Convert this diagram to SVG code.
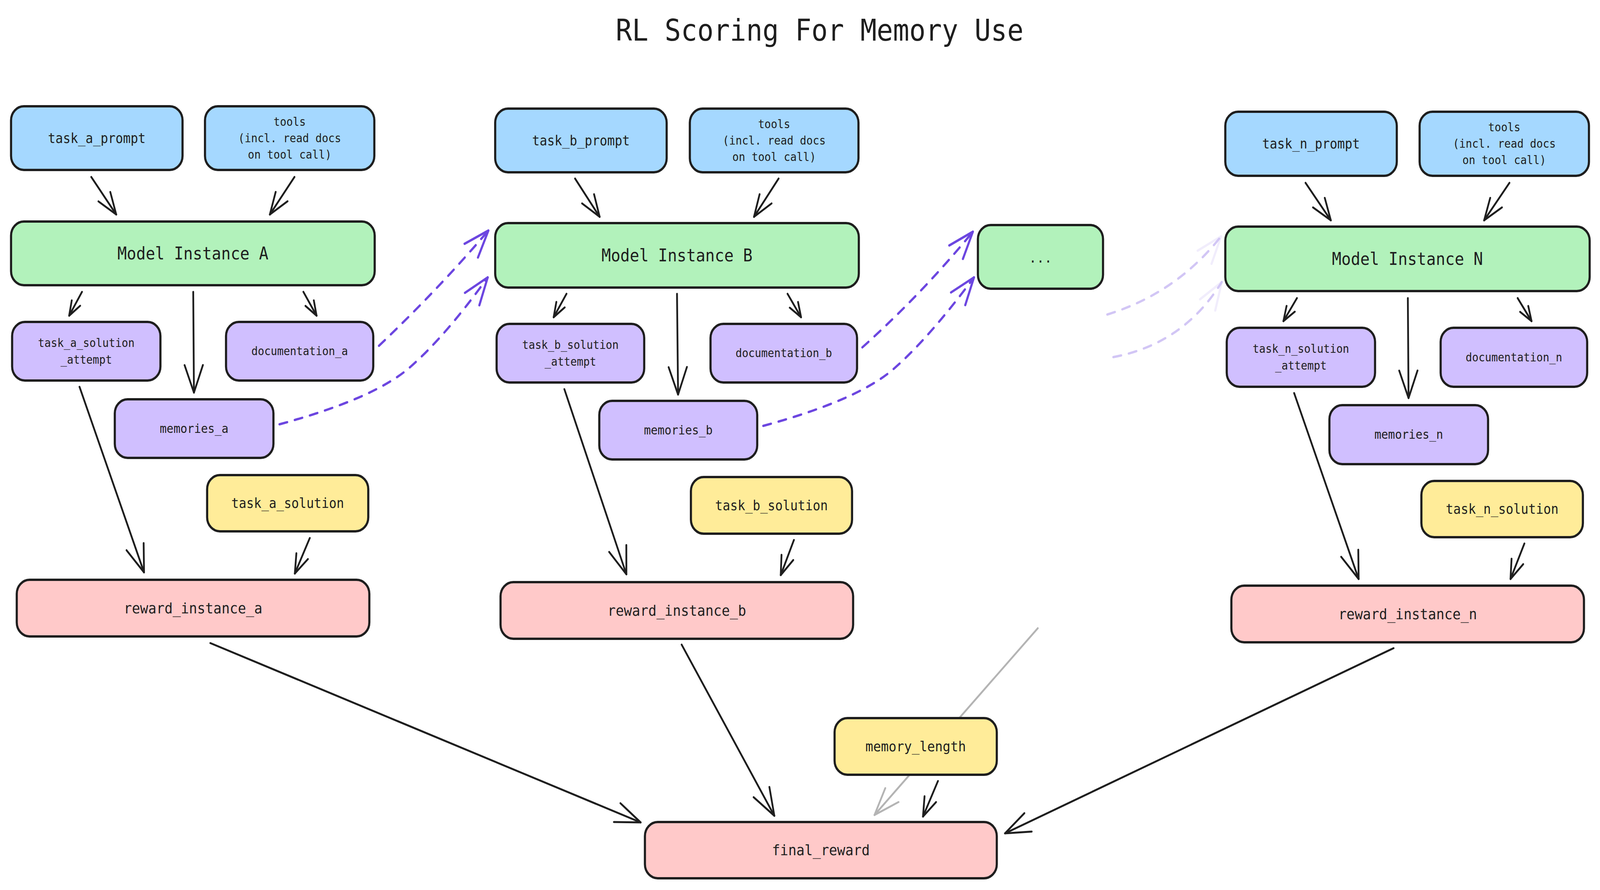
<svg xmlns="http://www.w3.org/2000/svg" width="4488" height="2278" viewBox="0 0 4488 2278" preserveAspectRatio="none">
<style>
svg{width:100vw;height:100vh;display:block}
.box{stroke:#1e1e1e;stroke-width:6}
.blue{fill:#a5d8ff}.green{fill:#b2f2bb}.purple{fill:#d0bfff}.yellow{fill:#ffec99}.pink{fill:#ffc9c9}
text{font-family:"DejaVu Sans Mono","Liberation Mono",monospace;fill:#1e1e1e;text-anchor:middle;dominant-baseline:central}
.title{font-size:76px;dominant-baseline:alphabetic}
.f30{font-size:30px}.f32{font-size:32px}.f35{font-size:35px}.f36{font-size:36px}.f38{font-size:38px}.f44{font-size:44px}
.c{fill:none;stroke:#1e1e1e;stroke-width:5;stroke-linecap:round;stroke-linejoin:round}
.dash{stroke:#6c46e0;stroke-width:6;stroke-dasharray:22 22}
.faded{stroke:#6c46e0;stroke-width:6;stroke-dasharray:22 22;opacity:.3}
.grey{stroke:#b4b4b4}
.hd{fill:none;stroke:#1e1e1e;stroke-width:5;stroke-linecap:round;stroke-linejoin:round}
.hp{fill:none;stroke:#6c46e0;stroke-width:6;stroke-linecap:round;stroke-linejoin:round}
.hf{fill:none;stroke:#6c46e0;stroke-width:6;stroke-linecap:round;stroke-linejoin:round;opacity:.3}
.hg{fill:none;stroke:#b4b4b4;stroke-width:5;stroke-linecap:round;stroke-linejoin:round}
</style>
<defs>
<marker id="as" viewBox="-100 -100 200 200" markerWidth="200" markerHeight="200" refX="0" refY="0" orient="auto" markerUnits="userSpaceOnUse"><path class="hd" d="M-37.6,-13.7 L0,0 L-37.6,13.7"/></marker>
<marker id="a50" viewBox="-100 -100 200 200" markerWidth="200" markerHeight="200" refX="0" refY="0" orient="auto" markerUnits="userSpaceOnUse"><path class="hd" d="M-49,-17.8 L0,0 L-49,17.8"/></marker>
<marker id="am" viewBox="-100 -100 200 200" markerWidth="200" markerHeight="200" refX="0" refY="0" orient="auto" markerUnits="userSpaceOnUse"><path class="hd" d="M-56.4,-20.5 L0,0 L-56.4,20.5"/></marker>
<marker id="al" viewBox="-100 -100 200 200" markerWidth="200" markerHeight="200" refX="0" refY="0" orient="auto" markerUnits="userSpaceOnUse"><path class="hd" d="M-70.5,-25.7 L0,0 L-70.5,25.7"/></marker>
<marker id="ap" viewBox="-100 -100 200 200" markerWidth="200" markerHeight="200" refX="0" refY="0" orient="auto" markerUnits="userSpaceOnUse"><path class="hp" d="M-70.5,-25.7 L0,0 L-70.5,25.7"/></marker>
<marker id="af" viewBox="-100 -100 200 200" markerWidth="200" markerHeight="200" refX="0" refY="0" orient="auto" markerUnits="userSpaceOnUse"><path class="hf" d="M-70.5,-25.7 L0,0 L-70.5,25.7"/></marker>
<marker id="ag" viewBox="-100 -100 200 200" markerWidth="200" markerHeight="200" refX="0" refY="0" orient="auto" markerUnits="userSpaceOnUse"><path class="hg" d="M-70.5,-25.7 L0,0 L-70.5,25.7"/></marker>
</defs>
<rect width="4488" height="2278" fill="#ffffff"/>
<text class="title" x="2299" y="104">RL Scoring For Memory Use</text>

<g id="connectors">
<!-- column A -->
<path class="c" d="M256 453 L326 549" marker-end="url(#am)"/>
<path class="c" d="M826 453 L757 549" marker-end="url(#am)"/>
<path class="c" d="M230 747 L194 808" marker-end="url(#as)"/>
<path class="c" d="M542 747 L544 1005" marker-end="url(#al)"/>
<path class="c" d="M851 747 L888 808" marker-end="url(#as)"/>
<path class="c" d="M223 990 L404 1465" marker-end="url(#al)"/>
<path class="c" d="M869 1377 L827 1468" marker-end="url(#a50)"/>
<!-- column B -->
<path class="c" d="M1613 457 L1682 555" marker-end="url(#am)"/>
<path class="c" d="M2184 457 L2115 555" marker-end="url(#am)"/>
<path class="c" d="M1589 752 L1553 812" marker-end="url(#as)"/>
<path class="c" d="M1899 752 L1902 1010" marker-end="url(#al)"/>
<path class="c" d="M2209 752 L2247 812" marker-end="url(#as)"/>
<path class="c" d="M1583 996 L1757 1470" marker-end="url(#al)"/>
<path class="c" d="M2227 1382 L2190 1472" marker-end="url(#a50)"/>
<!-- column N -->
<path class="c" d="M3662 468 L3733 564" marker-end="url(#am)"/>
<path class="c" d="M4234 468 L4163 564" marker-end="url(#am)"/>
<path class="c" d="M3638 763 L3600 822" marker-end="url(#as)"/>
<path class="c" d="M3949 763 L3951 1019" marker-end="url(#al)"/>
<path class="c" d="M4257 763 L4296 822" marker-end="url(#as)"/>
<path class="c" d="M3630 1006 L3811 1482" marker-end="url(#al)"/>
<path class="c" d="M4276 1391 L4237 1482" marker-end="url(#a50)"/>
<!-- to final -->
<path class="c" d="M590 1646 L1797 2105" marker-end="url(#al)"/>
<path class="c" d="M1912 1650 L2172 2088" marker-end="url(#al)"/>
<path class="c" d="M3909 1659 L2819 2133" marker-end="url(#al)"/>
<path class="c" d="M2631 1999 L2589 2090" marker-end="url(#a50)"/>
<path class="c grey" d="M2911 1608 L2453 2086" marker-end="url(#ag)"/>
<!-- dashed memory carry-over -->
<path class="c dash" d="M1063 885 Q1230 740 1370 590" marker-end="url(#ap)"/>
<path class="c dash" d="M784 1086 Q1050 1020 1150 940 T1368 710" marker-end="url(#ap)"/>
<path class="c dash" d="M2419 889 Q2586 752 2729 593" marker-end="url(#ap)"/>
<path class="c dash" d="M2141 1090 Q2407 1024 2507 944 T2732 710" marker-end="url(#ap)"/>
<path class="c faded" d="M3106 805 Q3300 750 3425 605" marker-end="url(#af)"/>
<path class="c faded" d="M3123 914 Q3320 880 3427 722" marker-end="url(#af)"/>
</g>

<g id="task_a_prompt"><rect class="box blue" x="31" y="272" width="481" height="163" rx="36"/><text class="f35" x="271.5" y="353.5">task_a_prompt</text></g>
<g id="tools_a"><rect class="box blue" x="575" y="272" width="475" height="163" rx="36"/><text class="f30" x="812.5" y="311.5">tools</text><text class="f30" x="812.5" y="353.5">(incl. read docs</text><text class="f30" x="812.5" y="395.5">on tool call)</text></g>
<g id="model_a"><rect class="box green" x="31" y="567" width="1020" height="163" rx="36"/><text class="f44" x="541" y="648.5">Model Instance A</text></g>
<g id="attempt_a"><rect class="box purple" x="34" y="824" width="416" height="150" rx="36"/><text class="f30" x="242" y="877.5">task_a_solution</text><text class="f30" x="242" y="920.5">_attempt</text></g>
<g id="documentation_a"><rect class="box purple" x="634" y="824" width="413" height="150" rx="36"/><text class="f30" x="840.5" y="899">documentation_a</text></g>
<g id="memories_a"><rect class="box purple" x="322" y="1022" width="445" height="150" rx="36"/><text class="f32" x="544.5" y="1097">memories_a</text></g>
<g id="task_a_solution"><rect class="box yellow" x="581" y="1216" width="452" height="144" rx="36"/><text class="f35" x="807" y="1288">task_a_solution</text></g>
<g id="reward_instance_a"><rect class="box pink" x="47" y="1484" width="989" height="145" rx="36"/><text class="f38" x="541.5" y="1556.5">reward_instance_a</text></g>

<g id="task_b_prompt"><rect class="box blue" x="1389" y="278" width="481" height="163" rx="36"/><text class="f35" x="1629.5" y="359.5">task_b_prompt</text></g>
<g id="tools_b"><rect class="box blue" x="1935" y="278" width="473" height="163" rx="36"/><text class="f30" x="2171.5" y="317.5">tools</text><text class="f30" x="2171.5" y="359.5">(incl. read docs</text><text class="f30" x="2171.5" y="401.5">on tool call)</text></g>
<g id="model_b"><rect class="box green" x="1389" y="571" width="1020" height="165" rx="36"/><text class="f44" x="1899" y="653.5">Model Instance B</text></g>
<g id="attempt_b"><rect class="box purple" x="1393" y="829" width="414" height="150" rx="36"/><text class="f30" x="1600" y="882.5">task_b_solution</text><text class="f30" x="1600" y="925.5">_attempt</text></g>
<g id="documentation_b"><rect class="box purple" x="1993" y="829" width="411" height="150" rx="36"/><text class="f30" x="2198.5" y="904">documentation_b</text></g>
<g id="memories_b"><rect class="box purple" x="1681" y="1026" width="443" height="150" rx="36"/><text class="f32" x="1902.5" y="1101">memories_b</text></g>
<g id="task_b_solution"><rect class="box yellow" x="1938" y="1221" width="452" height="145" rx="36"/><text class="f35" x="2164" y="1293.5">task_b_solution</text></g>
<g id="reward_instance_b"><rect class="box pink" x="1404" y="1490" width="989" height="145" rx="36"/><text class="f38" x="1898.5" y="1562.5">reward_instance_b</text></g>

<g id="model_more"><rect class="box green" x="2743" y="576" width="351" height="163" rx="36"/><text class="f36" x="2918.5" y="659">...</text></g>

<g id="task_n_prompt"><rect class="box blue" x="3437" y="286" width="481" height="164" rx="36"/><text class="f35" x="3677.5" y="368">task_n_prompt</text></g>
<g id="tools_n"><rect class="box blue" x="3982" y="286" width="475" height="164" rx="36"/><text class="f30" x="4219.5" y="326">tools</text><text class="f30" x="4219.5" y="368">(incl. read docs</text><text class="f30" x="4219.5" y="410">on tool call)</text></g>
<g id="model_n"><rect class="box green" x="3437" y="580" width="1022" height="165" rx="36"/><text class="f44" x="3948" y="662.5">Model Instance N</text></g>
<g id="attempt_n"><rect class="box purple" x="3441" y="839" width="416" height="151" rx="36"/><text class="f30" x="3649" y="893">task_n_solution</text><text class="f30" x="3649" y="936">_attempt</text></g>
<g id="documentation_n"><rect class="box purple" x="4041" y="839" width="411" height="151" rx="36"/><text class="f30" x="4246.5" y="914.5">documentation_n</text></g>
<g id="memories_n"><rect class="box purple" x="3729" y="1037" width="445" height="151" rx="36"/><text class="f32" x="3951.5" y="1112.5">memories_n</text></g>
<g id="task_n_solution"><rect class="box yellow" x="3987" y="1231" width="453" height="144" rx="36"/><text class="f35" x="4213.5" y="1303">task_n_solution</text></g>
<g id="reward_instance_n"><rect class="box pink" x="3454" y="1499" width="989" height="145" rx="36"/><text class="f38" x="3948.5" y="1571.5">reward_instance_n</text></g>

<g id="memory_length"><rect class="box yellow" x="2341" y="1838" width="455" height="145" rx="36"/><text class="f36" x="2568.5" y="1910.5">memory_length</text></g>
<g id="final_reward"><rect class="box pink" x="1809" y="2104" width="987" height="144" rx="36"/><text class="f38" x="2302.5" y="2176">final_reward</text></g>
</svg>
